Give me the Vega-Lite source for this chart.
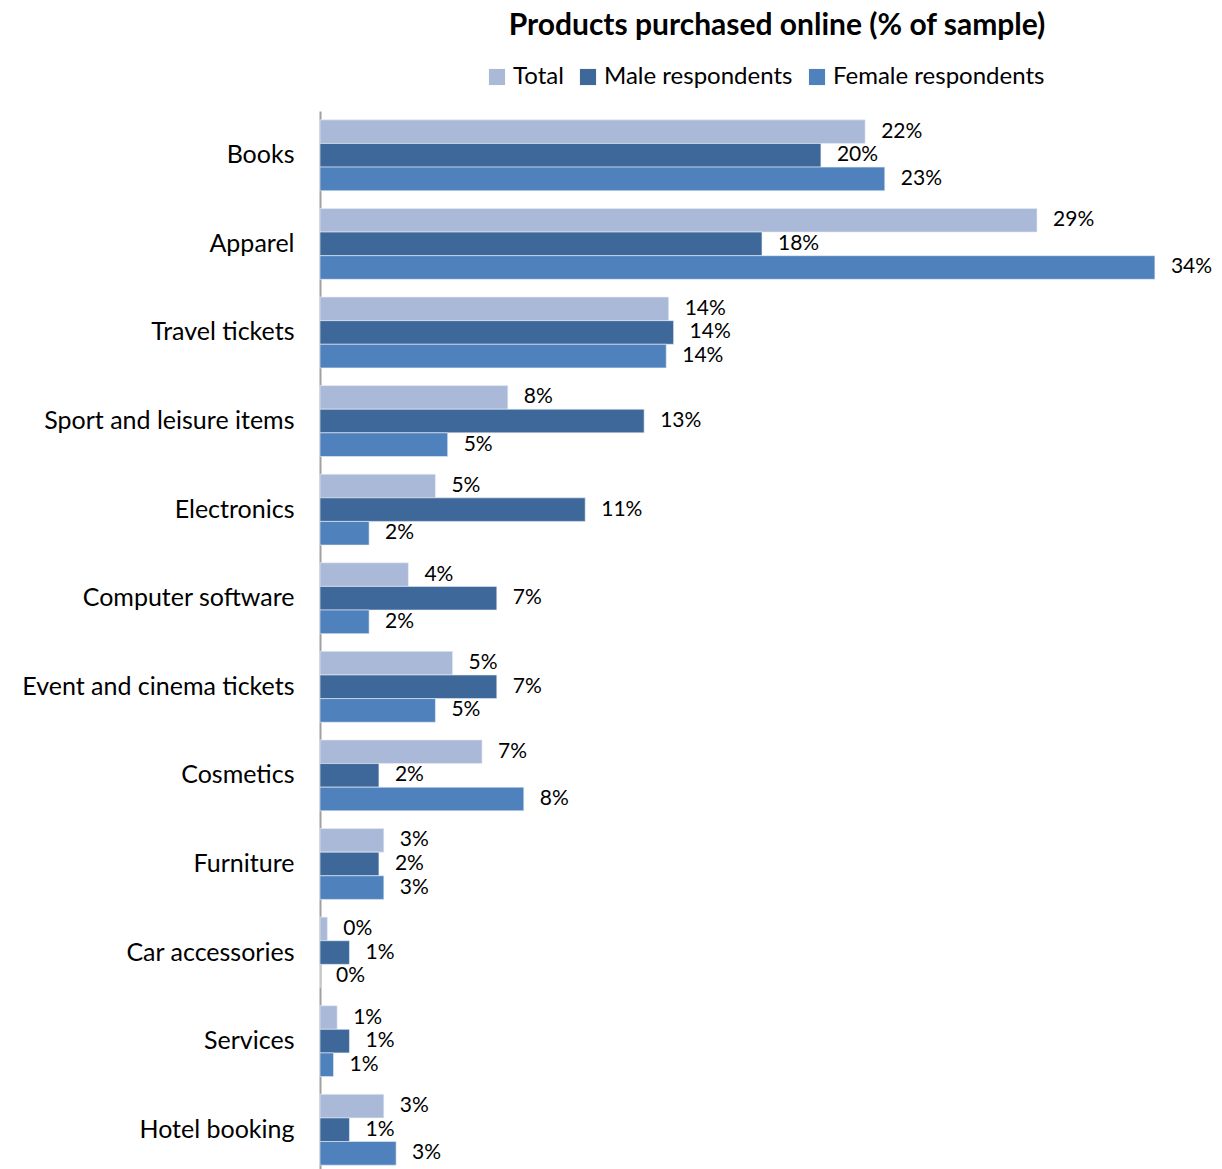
{
  "$schema": "https://vega.github.io/schema/vega-lite/v6.json",
  "autosize": {"type": "none"},
  "padding": {"left": 320, "top": 111, "right": 18, "bottom": 0},
  "width": 884,
  "height": 1063,
  "background": "white",
  "config": {"view": {"stroke": null}, "font": "Lato"},
  "title": {
    "text": "Products purchased online (% of sample)",
    "font": "Lato",
    "fontSize": 30,
    "fontWeight": "bold",
    "color": "black",
    "anchor": "middle",
    "frame": "group",
    "dx": 15,
    "offset": 24
  },
  "data": {
    "values": [
      {"product": "Books", "series": "Total", "value": 0.222},
      {"product": "Books", "series": "Male respondents", "value": 0.204},
      {"product": "Books", "series": "Female respondents", "value": 0.23},
      {"product": "Apparel", "series": "Total", "value": 0.292},
      {"product": "Apparel", "series": "Male respondents", "value": 0.18},
      {"product": "Apparel", "series": "Female respondents", "value": 0.34},
      {"product": "Travel tickets", "series": "Total", "value": 0.142},
      {"product": "Travel tickets", "series": "Male respondents", "value": 0.144},
      {"product": "Travel tickets", "series": "Female respondents", "value": 0.141},
      {"product": "Sport and leisure items", "series": "Total", "value": 0.0765},
      {"product": "Sport and leisure items", "series": "Male respondents", "value": 0.132},
      {"product": "Sport and leisure items", "series": "Female respondents", "value": 0.052},
      {"product": "Electronics", "series": "Total", "value": 0.047},
      {"product": "Electronics", "series": "Male respondents", "value": 0.108},
      {"product": "Electronics", "series": "Female respondents", "value": 0.02},
      {"product": "Computer software", "series": "Total", "value": 0.036},
      {"product": "Computer software", "series": "Male respondents", "value": 0.072},
      {"product": "Computer software", "series": "Female respondents", "value": 0.02},
      {"product": "Event and cinema tickets", "series": "Total", "value": 0.054},
      {"product": "Event and cinema tickets", "series": "Male respondents", "value": 0.072},
      {"product": "Event and cinema tickets", "series": "Female respondents", "value": 0.047},
      {"product": "Cosmetics", "series": "Total", "value": 0.066},
      {"product": "Cosmetics", "series": "Male respondents", "value": 0.024},
      {"product": "Cosmetics", "series": "Female respondents", "value": 0.083},
      {"product": "Furniture", "series": "Total", "value": 0.026},
      {"product": "Furniture", "series": "Male respondents", "value": 0.024},
      {"product": "Furniture", "series": "Female respondents", "value": 0.026},
      {"product": "Car accessories", "series": "Total", "value": 0.003},
      {"product": "Car accessories", "series": "Male respondents", "value": 0.012},
      {"product": "Car accessories", "series": "Female respondents", "value": 0.0},
      {"product": "Services", "series": "Total", "value": 0.007},
      {"product": "Services", "series": "Male respondents", "value": 0.012},
      {"product": "Services", "series": "Female respondents", "value": 0.0055},
      {"product": "Hotel booking", "series": "Total", "value": 0.026},
      {"product": "Hotel booking", "series": "Male respondents", "value": 0.012},
      {"product": "Hotel booking", "series": "Female respondents", "value": 0.031}
    ]
  },
  "encoding": {
    "y": {
      "field": "product",
      "type": "nominal",
      "sort": null,
      "scale": {"paddingInner": 0.2, "paddingOuter": 0.1},
      "axis": {
        "title": null,
        "ticks": false,
        "domainColor": "#A0A0A0",
        "domainWidth": 2,
        "labelFont": "Lato",
        "labelFontSize": 25,
        "labelColor": "black",
        "labelPadding": 26,
        "labelLimit": 400
      }
    },
    "yOffset": {
      "field": "series",
      "type": "nominal",
      "sort": ["Total", "Male respondents", "Female respondents"]
    },
    "x": {
      "field": "value",
      "type": "quantitative",
      "scale": {"domain": [0, 0.36], "nice": false},
      "axis": null
    }
  },
  "layer": [
    {
      "mark": {"type": "bar", "stroke": "#E8EEF7", "strokeWidth": 0.6},
      "encoding": {
        "color": {
          "field": "series",
          "type": "nominal",
          "sort": ["Total", "Male respondents", "Female respondents"],
          "scale": {
            "domain": ["Total", "Male respondents", "Female respondents"],
            "range": ["#AAB9D7", "#3F689A", "#4F81BD"]
          },
          "legend": {
            "title": null,
            "orient": "none",
            "direction": "horizontal",
            "legendX": 165,
            "legendY": -46,
            "symbolType": "square",
            "symbolSize": 260,
            "symbolStrokeWidth": 0,
            "labelFont": "Lato",
            "labelFontSize": 24,
            "labelColor": "black",
            "labelOffset": 4,
            "columnPadding": 12,
            "labelLimit": 400
          }
        }
      }
    },
    {
      "mark": {"type": "text", "align": "left", "baseline": "middle", "dx": 16, "font": "Lato", "fontSize": 21, "color": "black"},
      "encoding": {
        "text": {"field": "value", "type": "quantitative", "format": ".0%"}
      }
    }
  ]
}
